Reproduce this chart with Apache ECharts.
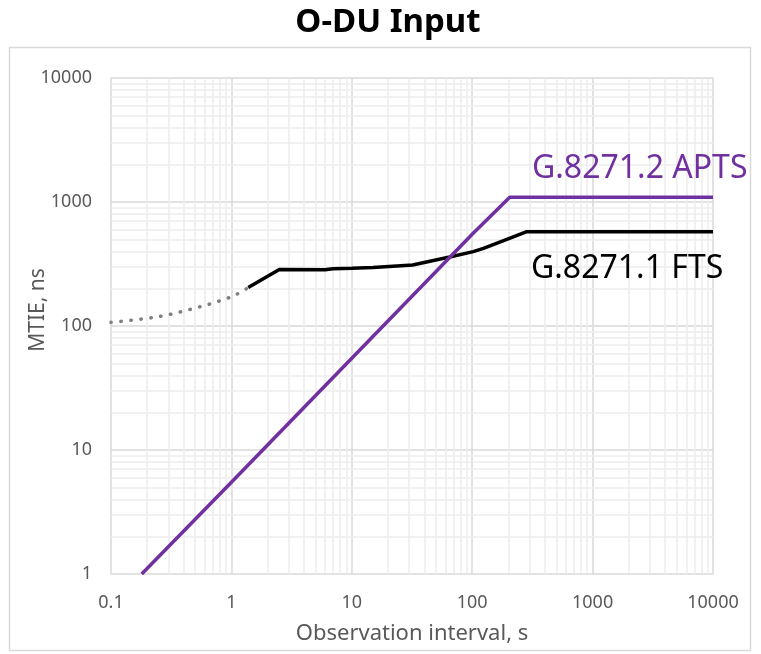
<!DOCTYPE html>
<html>
<head>
<meta charset="utf-8">
<script src="https://cdn.jsdelivr.net/npm/echarts@6/dist/echarts.min.js"></script>
<style>
  html, body { margin: 0; padding: 0; background: #fff; }
  #main { width: 761px; height: 654px; }
</style>
</head>
<body>
<div id="main"></div>
<script>
// MTIE masks at the O-DU input, log-log
var xTicks = [0.1, 1, 10, 100, 1000, 10000];
var yTicks = [1, 10, 100, 1000, 10000];

// G.8271.2 APTS
var aptsX = [0.18, 1, 10, 100, 205, 10000];
var aptsY = [1, 5.5, 55, 550, 1090, 1090];

// G.8271.1 FTS, dotted part (short intervals)
var ftsDotX = [0.1, 0.25, 0.55, 1, 1.38];
var ftsDotY = [107, 119, 143, 172, 204];

// G.8271.1 FTS, solid part
var ftsX = [1.38, 2.5, 6, 7, 10, 15, 32, 65, 102, 124, 194, 284, 10000];
var ftsY = [204, 285, 284, 290, 292, 297, 310, 360, 398, 423, 500, 576, 576];

function pairs(xs, ys) {
  var out = [];
  for (var i = 0; i < xs.length; i++) out.push([xs[i], ys[i]]);
  return out;
}

// minor grid lines 2..9 in every decade
function minorLines(ticks, axis) {
  var out = [];
  for (var i = 0; i < ticks.length - 1; i++) {
    for (var k = 2; k <= 9; k++) {
      var o = {};
      o[axis] = ticks[i] * k;
      out.push(o);
    }
  }
  return out;
}

var font = 'Noto Sans';
var gray = '#595959';

var chart = echarts.init(document.getElementById('main'));

var option = {
  backgroundColor: '#ffffff',
  animation: false,
  graphic: [
    {
      type: 'rect',
      shape: { x: 9.5, y: 47.5, width: 741, height: 603 },
      style: { fill: 'none', stroke: '#d9d9d9', lineWidth: 1.5 },
      silent: true,
      z: 0
    },
    {
      type: 'text',
      x: 388, y: 23,
      z: 10,
      style: { text: 'O-DU Input', fill: '#000', font: 'bold 33px "Noto Sans"', align: 'center', verticalAlign: 'middle' }
    },
    {
      type: 'text',
      x: 38, y: 310,
      rotation: Math.PI / 2,
      z: 10,
      style: { text: 'MTIE, ns', fill: gray, font: '21px "Noto Sans"', align: 'center', verticalAlign: 'middle' }
    },
    {
      type: 'text',
      left: 532, top: 153,
      z: 10,
      style: { text: 'G.8271.2 APTS', fill: '#7030a0', font: '32px "Noto Sans"' }
    },
    {
      type: 'text',
      left: 531, top: 253,
      z: 10,
      style: { text: 'G.8271.1 FTS', fill: '#000000', font: '32px "Noto Sans"' }
    }
  ],
  grid: { left: 111, right: 48, top: 78, bottom: 80 },
  xAxis: {
    type: 'log',
    logBase: 10,
    min: 0.1,
    max: 10000,
    name: 'Observation interval, s',
    nameLocation: 'middle',
    nameGap: 49,
    nameTextStyle: { fontFamily: font, fontSize: 22, color: gray },
    axisLine: { show: false },
    axisTick: { show: false },
    axisLabel: {
      fontFamily: font, fontSize: 18, color: gray, margin: 20,
      formatter: function (v) { return String(+v.toPrecision(6)); }
    },
    splitLine: { show: true, lineStyle: { color: '#d9d9d9', width: 1.5 } }
  },
  yAxis: {
    type: 'log',
    logBase: 10,
    min: 1,
    max: 10000,
    axisLine: { show: false },
    axisTick: { show: false },
    axisLabel: {
      fontFamily: font, fontSize: 18, color: gray, margin: 19,
      formatter: function (v) { return String(+v.toPrecision(6)); }
    },
    splitLine: { show: true, lineStyle: { color: '#d9d9d9', width: 1.5 } }
  },
  series: [
    {
      name: 'minor grid',
      type: 'line',
      data: [],
      silent: true,
      z: 1,
      markLine: {
        silent: true,
        z: 1,
        symbol: 'none',
        animation: false,
        label: { show: false },
        emphasis: { disabled: true },
        lineStyle: { color: '#ececec', width: 1.5, type: 'solid' },
        data: minorLines(xTicks, 'xAxis').concat(minorLines(yTicks, 'yAxis'))
      }
    },
    {
      name: 'FTS dotted',
      type: 'line',
      data: pairs(ftsDotX, ftsDotY),
      showSymbol: false,
      smooth: 0.3,
      z: 3,
      lineStyle: { color: '#7f7f7f', width: 3.5, type: [0.5, 9.5], cap: 'round' }
    },
    {
      name: 'G.8271.1 FTS',
      type: 'line',
      data: pairs(ftsX, ftsY),
      showSymbol: false,
      z: 4,
      lineStyle: { color: '#000000', width: 3.5 }
    },
    {
      name: 'G.8271.2 APTS',
      type: 'line',
      data: pairs(aptsX, aptsY),
      showSymbol: false,
      z: 5,
      lineStyle: { color: '#7030a0', width: 3.5 }
    }
  ]
};

chart.setOption(option);
</script>
</body>
</html>
